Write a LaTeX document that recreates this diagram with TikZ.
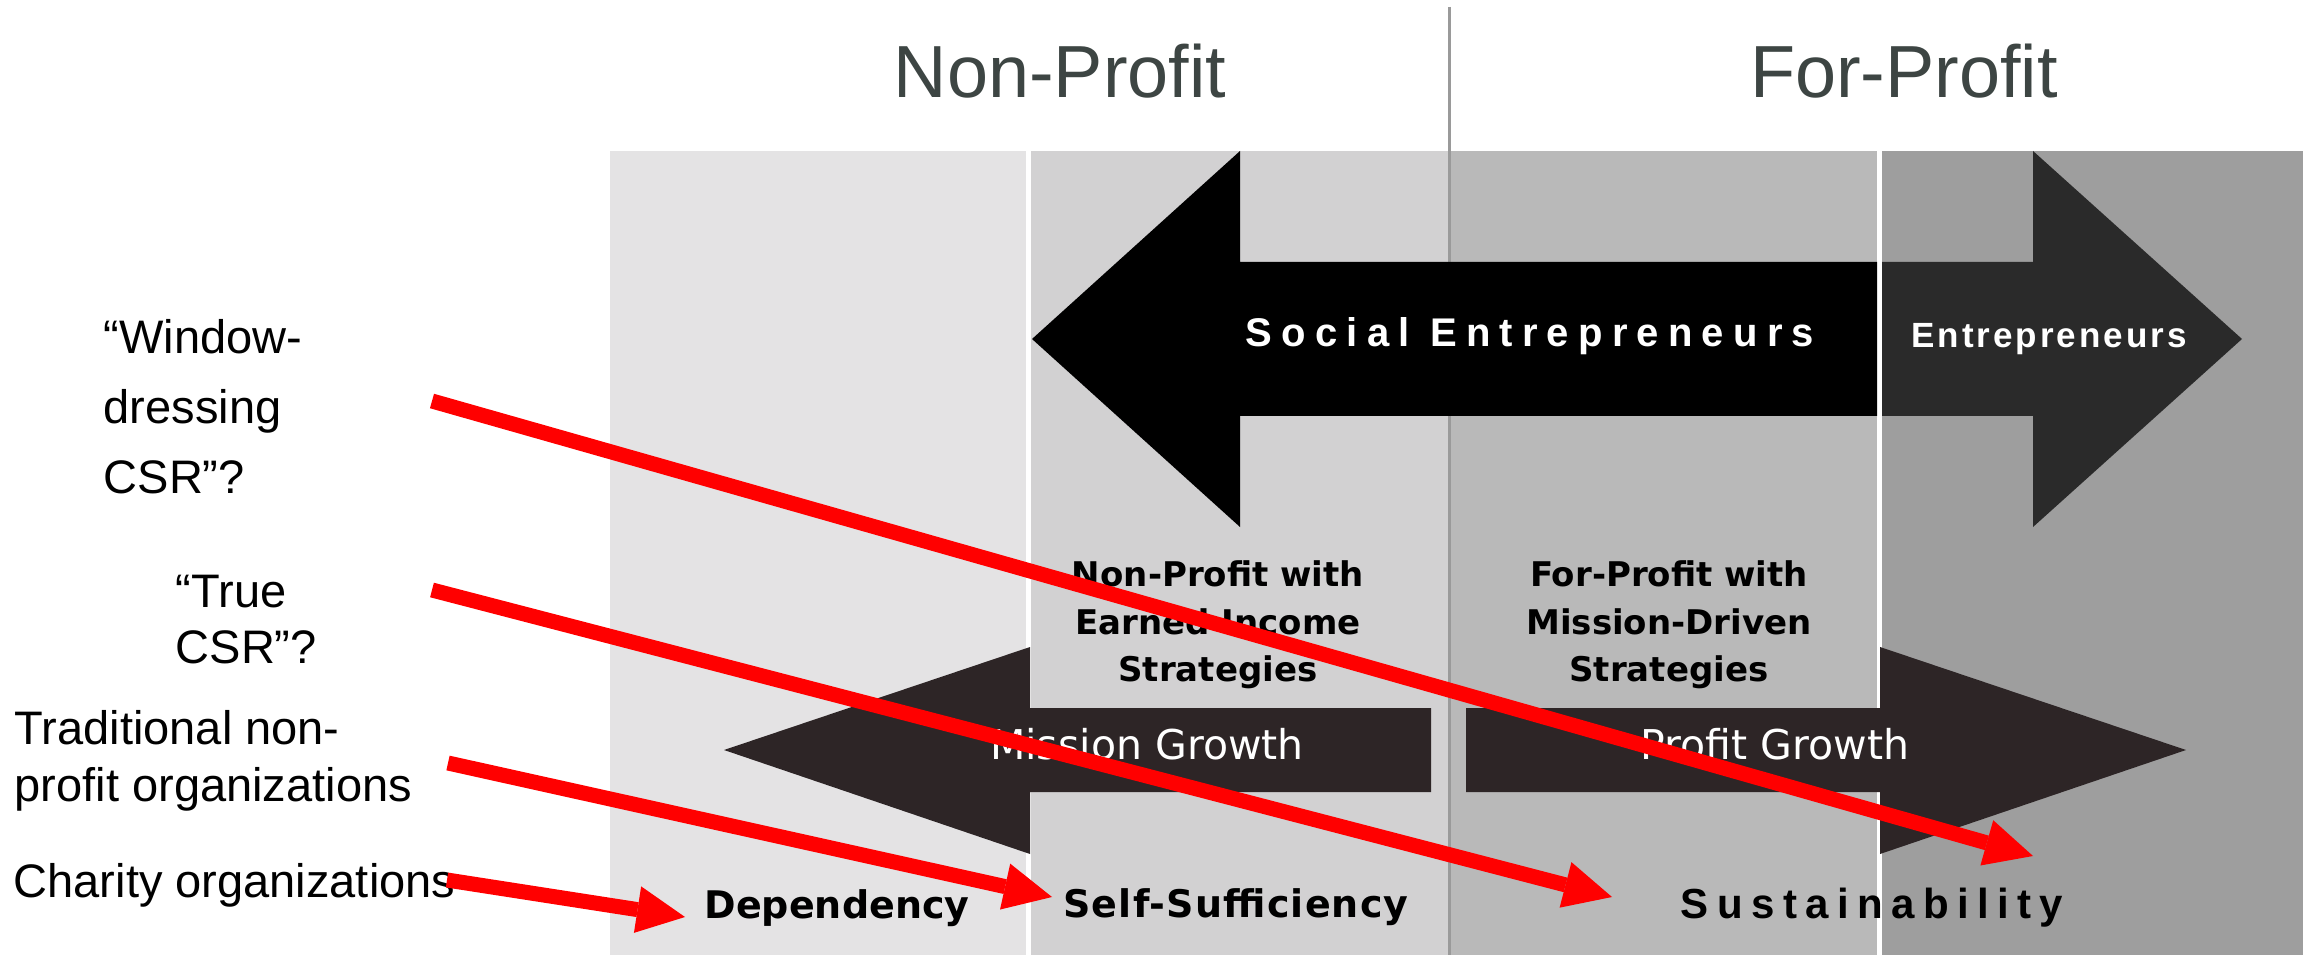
\documentclass[tikz,border=0pt]{standalone}
\usepackage{fontspec}
\usetikzlibrary{arrows.meta}

\newfontfamily\arialfont{Liberation Sans}
\newfontfamily\verdfont{DejaVu Sans}
\newfontfamily\socialfont[LetterSpace=23]{Liberation Sans}
\newfontfamily\entfont[LetterSpace=8.6]{Liberation Sans}
\newfontfamily\sustfont[LetterSpace=20]{Liberation Sans}

\newcommand{\fsz}[2]{\fontsize{#1}{#2}\selectfont}

\definecolor{bandA}{HTML}{E4E3E4}
\definecolor{bandB}{HTML}{D2D1D2}
\definecolor{bandC}{HTML}{B9B9B9}
\definecolor{bandD}{HTML}{9E9E9E}
\definecolor{titlegray}{HTML}{3D4543}
\definecolor{growthdark}{HTML}{2D2526}
\definecolor{entdark}{HTML}{2A2A2A}
\definecolor{divgray}{HTML}{9A9A9A}

\tikzset{
  titletext/.style={inner sep=0pt, anchor=base, text=titlegray, font=\arialfont\fsz{21pt}{25pt}},
  sidetext/.style={inner sep=0pt, anchor=base west, text=black},
  stagetext/.style={inner sep=0pt, anchor=base, text=black, font=\verdfont\bfseries\fsz{10.81pt}{13pt}},
  boxtext/.style={inner sep=0pt, anchor=base, text=black},
  growthtext/.style={inner sep=0pt, anchor=base, text=white, font=\verdfont\fsz{11.67pt}{14pt}},
  redarrow/.style={draw=red, line width=0.15cm,
    -{Triangle[length=0.48cm, width=0.47cm, line width=0pt]}},
}

\begin{document}
\begin{tikzpicture}[x=0.01cm, y=-0.01cm]
\useasboundingbox (0,0) rectangle (2318,955);
\fill[white] (0,0) rectangle (2318,955);

% four shaded bands
\fill[bandA] (610,151) rectangle (1026,955);
\fill[bandB] (1031,151) rectangle (1449,955);
\fill[bandC] (1449,151) rectangle (1877,955);
\fill[bandD] (1882,151) rectangle (2303,955);

% divider between the two sectors
\draw[divgray, line width=0.03cm] (1449,7) -- (1449,955);

% headings
\node[titletext] (np) at (1060,98) {Non-Profit};
\node[titletext] (fp) at (1904,98) {For-Profit};

% large double arrow: social entrepreneurs (left) and entrepreneurs (right)
\fill[black] (1032,339) -- (1240,151) -- (1240,262) -- (1877,262)
  -- (1877,416) -- (1240,416) -- (1240,527) -- cycle;
\fill[entdark] (1882,262) -- (2033,262) -- (2033,151) -- (2242,339)
  -- (2033,527) -- (2033,416) -- (1882,416) -- cycle;
\node[inner sep=0pt, anchor=base, text=white, font=\socialfont\bfseries\fsz{11.38pt}{14pt}]
  (soc) at (1530,347) {Social Entrepreneurs};
\node[inner sep=0pt, anchor=base, text=white, font=\entfont\bfseries\fsz{9.96pt}{12pt}]
  (ent) at (2049,348) {Entrepreneurs};

% growth arrows
\fill[growthdark] (724,750) -- (1030,647) -- (1030,708) -- (1431,708)
  -- (1431,792) -- (1030,792) -- (1030,854) -- cycle;
\fill[growthdark] (1466,708) -- (1880,708) -- (1880,647) -- (2186,750)
  -- (1880,854) -- (1880,792) -- (1466,792) -- cycle;
\node[growthtext] (mg) at (1147,759) {Mission Growth};
\node[growthtext] (pg) at (1775,759) {Profit Growth};

% strategy boxes
\node[boxtext] (npe) at (1218,587) {\parbox[t]{8cm}{\centering\verdfont\bfseries\fsz{9.67pt}{13.5pt}%
  Non-Profit with\\Earned Income\\Strategies}};
\node[boxtext] (fpm) at (1669,587) {\parbox[t]{8cm}{\centering\verdfont\bfseries\fsz{9.67pt}{13.5pt}%
  For-Profit with\\Mission-Driven\\Strategies}};

% stages along the bottom
\node[stagetext] (dep) at (837,918) {Dependency};
\node[stagetext] (self) at (1236,917) {\addfontfeatures{LetterSpace=3}Self-Sufficiency};
\node[inner sep=0pt, anchor=base, text=black, font=\sustfont\bfseries\fsz{11.95pt}{14pt}]
  (sust) at (1872,918) {Sustainability};

% organisation types on the left
\node[sidetext] (win) at (103,354) {\parbox[t]{6cm}{\raggedright\arialfont\fsz{13.37pt}{19.9pt}%
  “Window-\\dressing\\CSR”?}};
\node[sidetext] (true) at (175,607) {\parbox[t]{6cm}{\raggedright\arialfont\fsz{13.37pt}{16.1pt}%
  “True\\CSR”?}};
\node[sidetext] (trad) at (14,744) {\parbox[t]{8cm}{\raggedright\arialfont\fsz{13.37pt}{16.22pt}%
  Traditional non-\\profit organizations}};
\node[sidetext] (char) at (13,897) {\parbox[t]{8cm}{\raggedright\arialfont\fsz{13.37pt}{16.22pt}%
  Charity organizations}};

% arrow end points
\coordinate (winS) at (432,401);
\coordinate (winE) at (2033,856);
\coordinate (trueS) at (432,590);
\coordinate (trueE) at (1612,897);
\coordinate (tradS) at (448,763);
\coordinate (tradE) at (1052,897);
\coordinate (charS) at (447,880);
\coordinate (charE) at (685,917);

\draw[redarrow] (winS) -- (winE);
\draw[redarrow] (trueS) -- (trueE);
\draw[redarrow] (tradS) -- (tradE);
\draw[redarrow] (charS) -- (charE);
\end{tikzpicture}
\end{document}
